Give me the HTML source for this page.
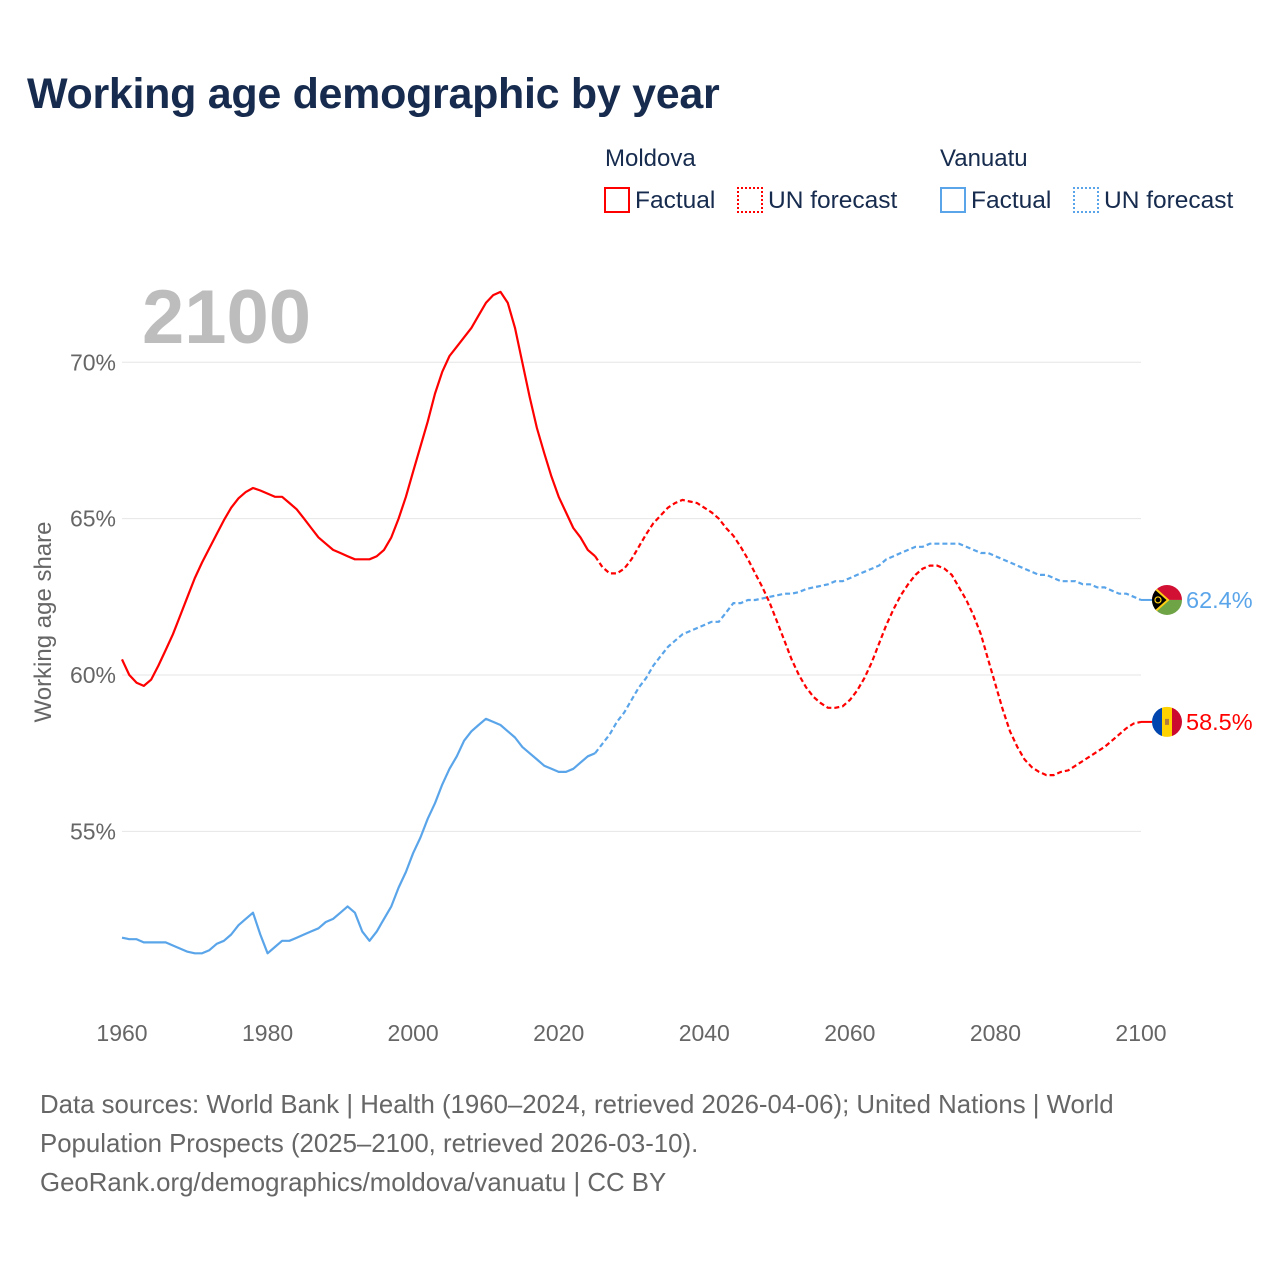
<!DOCTYPE html>
<html><head><meta charset="utf-8">
<style>
body{margin:0;background:#fff;font-family:"Liberation Sans",sans-serif;}
#wrap{position:relative;width:1280px;height:1280px;overflow:hidden;}
.t{position:absolute;white-space:nowrap;}
</style></head>
<body>
<div id="wrap">
<div class="t" style="left:27px;top:70px;font-size:43px;font-weight:bold;color:#162b4e;letter-spacing:-0.3px;">Working age demographic by year</div>
<div class="t" style="left:605px;top:145px;font-size:24px;color:#162b4e;">Moldova</div>
<div class="t" style="left:940px;top:145px;font-size:24px;color:#162b4e;">Vanuatu</div>
<div class="t" style="left:604px;top:187px;font-size:24.5px;color:#162b4e;"><span style="display:inline-block;width:26px;height:26px;border:2px solid #f00;box-sizing:border-box;vertical-align:-5px;margin-right:5px"></span>Factual</div>
<div class="t" style="left:737px;top:187px;font-size:24.5px;color:#162b4e;"><span style="display:inline-block;width:26px;height:26px;border:2px dotted #f00;box-sizing:border-box;vertical-align:-5px;margin-right:5px"></span>UN forecast</div>
<div class="t" style="left:940px;top:187px;font-size:24.5px;color:#162b4e;"><span style="display:inline-block;width:26px;height:26px;border:2px solid #5aa5ea;box-sizing:border-box;vertical-align:-5px;margin-right:5px"></span>Factual</div>
<div class="t" style="left:1073px;top:187px;font-size:24.5px;color:#162b4e;"><span style="display:inline-block;width:26px;height:26px;border:2px dotted #5aa5ea;box-sizing:border-box;vertical-align:-5px;margin-right:5px"></span>UN forecast</div>
<svg id="chart" width="1280" height="1280" style="position:absolute;left:0;top:0"></svg>
<div class="t" style="left:40px;top:1086px;font-size:25.8px;line-height:39px;color:#666;">Data sources: World Bank | Health (1960–2024, retrieved 2026-04-06); United Nations | World<br>Population Prospects (2025–2100, retrieved 2026-03-10).<br>GeoRank.org/demographics/moldova/vanuatu | CC BY</div>
</div>
<script>
const years=[];for(let y=1960;y<=2100;y++)years.push(y);
const moldova=[60.5,60.0,59.75,59.65,59.85,60.3,60.8,61.3,61.9,62.5,63.1,63.6,64.05,64.5,64.95,65.35,65.65,65.85,65.98,65.9,65.8,65.7,65.7,65.5,65.3,65.0,64.7,64.4,64.2,64.0,63.9,63.8,63.7,63.7,63.7,63.8,64.0,64.4,65.0,65.7,66.5,67.3,68.1,69.0,69.7,70.2,70.5,70.8,71.1,71.5,71.9,72.15,72.25,71.9,71.1,70.0,68.9,67.9,67.1,66.35,65.7,65.2,64.7,64.4,64.0,63.8,63.45,63.25,63.25,63.4,63.7,64.1,64.5,64.85,65.1,65.35,65.5,65.6,65.55,65.5,65.35,65.2,65.0,64.7,64.45,64.1,63.7,63.25,62.8,62.3,61.7,61.1,60.5,60.0,59.6,59.3,59.1,58.95,58.95,59.0,59.2,59.5,59.9,60.4,61.0,61.6,62.1,62.55,62.9,63.2,63.4,63.5,63.5,63.4,63.2,62.8,62.4,61.9,61.3,60.5,59.7,58.9,58.2,57.7,57.3,57.05,56.9,56.8,56.8,56.9,56.95,57.1,57.25,57.4,57.55,57.7,57.9,58.1,58.3,58.45,58.5];
const vanuatu=[51.6,51.55,51.55,51.45,51.45,51.45,51.45,51.35,51.25,51.15,51.1,51.1,51.2,51.4,51.5,51.7,52.0,52.2,52.4,51.7,51.1,51.3,51.5,51.5,51.6,51.7,51.8,51.9,52.1,52.2,52.4,52.6,52.4,51.8,51.5,51.8,52.2,52.6,53.2,53.7,54.3,54.8,55.4,55.9,56.5,57.0,57.4,57.9,58.2,58.4,58.6,58.5,58.4,58.2,58.0,57.7,57.5,57.3,57.1,57.0,56.9,56.9,57.0,57.2,57.4,57.5,57.8,58.1,58.5,58.8,59.2,59.6,59.9,60.3,60.6,60.9,61.1,61.3,61.4,61.5,61.6,61.7,61.7,62.0,62.3,62.3,62.4,62.4,62.45,62.5,62.55,62.6,62.6,62.65,62.75,62.8,62.85,62.9,63.0,63.0,63.1,63.2,63.3,63.4,63.5,63.7,63.8,63.9,64.0,64.1,64.1,64.2,64.2,64.2,64.2,64.2,64.1,64.0,63.9,63.9,63.8,63.7,63.6,63.5,63.4,63.3,63.2,63.2,63.1,63.0,63.0,63.0,62.9,62.9,62.8,62.8,62.7,62.6,62.6,62.5,62.4];
const yTicks=[55,60,65,70];
const xTicks=[1960,1980,2000,2020,2040,2060,2080,2100];
const forecastStart=2025;
const NS='http://www.w3.org/2000/svg';
const svg=document.getElementById('chart');
const X=y=>122+(y-1960)*(1141-122)/140;
const Y=v=>675-(v-60)*31.27;
function el(t,a,p){const e=document.createElementNS(NS,t);for(const k in a)e.setAttribute(k,a[k]);(p||svg).appendChild(e);return e;}
yTicks.forEach(v=>{
  const g=el('line',{x1:122,x2:1141,y1:Y(v),y2:Y(v),stroke:'#e6e6e6','stroke-width':1});
  
  
  const t=el('text',{x:116,y:Y(v)+8,'text-anchor':'end','font-size':23,fill:'#666','font-family':'Liberation Sans, sans-serif'});
  t.textContent=v+'%';
  
  
});
xTicks.forEach(v=>{
  const t=el('text',{x:X(v),y:1041,'text-anchor':'middle','font-size':23,fill:'#666','font-family':'Liberation Sans, sans-serif'});
  t.textContent=v;
  
  
});
const yt=el('text',{x:0,y:0,transform:'translate(51,622) rotate(-90)','text-anchor':'middle','font-size':24,fill:'#666','font-family':'Liberation Sans, sans-serif'});
yt.textContent='Working age share';


const yr=el('text',{x:142,y:343,'font-size':76,'font-weight':'bold',fill:'#bdbdbd','font-family':'Liberation Sans, sans-serif'});
yr.textContent='2100';


function series(vals,color,name){
  let a='',b='';
  years.forEach((y,i)=>{
    if(y<=forecastStart)a+=(a?'L':'M')+X(y).toFixed(1)+','+Y(vals[i]).toFixed(1);
    if(y>=forecastStart)b+=(b?'L':'M')+X(y).toFixed(1)+','+Y(vals[i]).toFixed(1);
  });
  const p1=el('path',{d:a,fill:'none',stroke:color,'stroke-width':2.2,'stroke-linejoin':'round'});
  
  
  const p2=el('path',{d:b,fill:'none',stroke:color,'stroke-width':2.2,'stroke-dasharray':'5,3'});
  
  
  const last=vals[vals.length-1];
  const c=el('line',{x1:X(2100),x2:1152,y1:Y(last),y2:Y(last),stroke:color,'stroke-width':2});
  
  
  const lb=el('text',{x:1186,y:Y(last)+8,'font-size':23.5,fill:color,'font-family':'Liberation Sans, sans-serif'});
  lb.textContent=last.toFixed(1)+'%';
  
  
  return Y(last);
}
const vy=series(vanuatu,'#5aa5ea','vanuatu');
const my=series(moldova,'#ff0000','moldova');
const defs=el('defs',{});
const cp1=el('clipPath',{id:'cv'},defs);el('circle',{cx:1167,cy:vy,r:15},cp1);
const cp2=el('clipPath',{id:'cm'},defs);el('circle',{cx:1167,cy:my,r:15},cp2);
const fv=el('g',{'clip-path':'url(#cv)'});


el('rect',{x:1150,y:vy-16,width:34,height:16,fill:'#d21034'},fv);
el('rect',{x:1150,y:vy,width:34,height:16,fill:'#6ea346'},fv);
el('path',{d:`M1150,${vy-16}L1168,${vy}L1150,${vy+16}Z`,fill:'#000',stroke:'#fdce12','stroke-width':2},fv);
el('circle',{cx:1158,cy:vy,r:3,fill:'none',stroke:'#fdce12','stroke-width':1.2},fv);
const fm=el('g',{'clip-path':'url(#cm)'});


el('rect',{x:1150,y:my-16,width:12,height:32,fill:'#0046ae'},fm);
el('rect',{x:1162,y:my-16,width:10,height:32,fill:'#ffd200'},fm);
el('rect',{x:1172,y:my-16,width:12,height:32,fill:'#cc092f'},fm);
el('rect',{x:1165,y:my-3,width:4,height:6,fill:'#b07e3a'},fm);
</script>
</body></html>
